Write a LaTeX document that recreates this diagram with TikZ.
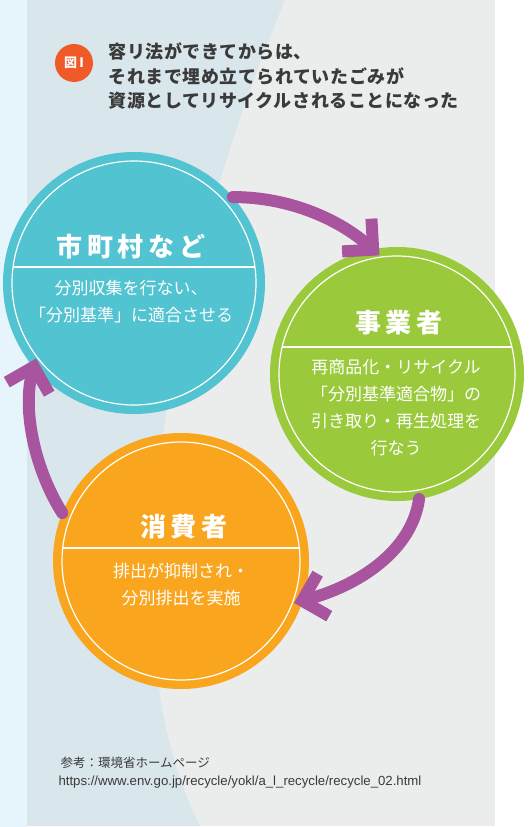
\documentclass[tikz,border=0pt]{standalone}
\usepackage{fontspec}
\setmainfont{Noto Sans CJK JP}
\newfontfamily\urlfont{Liberation Sans}
\usetikzlibrary{arrows.meta}

\definecolor{cityc}{HTML}{52C3D0}
\definecolor{bizc}{HTML}{9ACA3C}
\definecolor{conc}{HTML}{F9A61E}
\definecolor{arrowc}{HTML}{A8549F}
\definecolor{badgec}{HTML}{F05A28}
\definecolor{panelc}{HTML}{EBEDED}
\definecolor{bluegc}{HTML}{D9E6EC}
\definecolor{stripc}{HTML}{E6F5FC}
\definecolor{inkc}{HTML}{3A3A3A}

\begin{document}
\begin{tikzpicture}[x=1pt,y=-1pt,
  actor/.style={circle,draw=none,inner sep=0pt,outer sep=0pt,minimum size=#1},
  ring/.style={draw=white,line width=1.2pt},
  head/.style={text=white,font=\bfseries\fontsize{26}{26}\selectfont\addfontfeatures{LetterSpace=18}},
  body/.style={text=white,align=center,font=\fontsize{17}{27}\selectfont},
  cyc/.style={draw=arrowc,line width=12pt,line cap=round,
    -{Straight Barb[length=22pt,width=44pt,line cap=butt,line join=miter]}}]
  \useasboundingbox (0,0) rectangle (530,827);
  % background
  \fill[white] (0,0) rectangle (530,827);
  \fill[stripc] (0,0) rectangle (27,827);
  \fill[panelc] (27,0) rectangle (495,826);
  \fill[bluegc] (27,0) -- (285,0) .. controls (180,250) and (95,620) .. (200,826) -- (27,826) -- cycle;
  % title
  \node[circle,fill=badgec,minimum size=38pt,inner sep=0pt,text=white,font=\bfseries\fontsize{13}{13}\selectfont] (badge) at (74,63) {図\,I};
  \node[anchor=west,align=left,text=inkc,font=\bfseries\fontsize{18}{24.5}\selectfont\addfontfeatures{LetterSpace=3}] (title) at (105,76) {容リ法ができてからは、\\それまで埋め立てられていたごみが\\資源としてリサイクルされることになった};
  % circles
  \node[actor=262pt,fill=cityc] (city) at (134,283) {};
  \node[actor=254pt,fill=bizc] (biz) at (397,374) {};
  \node[actor=256pt,fill=conc] (con) at (181,561) {};
  \draw[ring] (city.center) circle[radius=122];
  \draw[ring] (biz.center) circle[radius=118];
  \draw[ring] (con.center) circle[radius=119];
  \begin{scope}
    \clip (city.center) circle[radius=122];
    \draw[ring] (0,267) -- (530,267);
  \end{scope}
  \begin{scope}
    \clip (biz.center) circle[radius=118];
    \draw[ring] (0,347) -- (530,347);
  \end{scope}
  \begin{scope}
    \clip (con.center) circle[radius=119];
    \draw[ring] (0,548) -- (530,548);
  \end{scope}
  \node[head] (cityhead) at (131,247) {市町村など};
  \node[body] (citybody) at (131,302) {分別収集を行ない、\\「分別基準」に適合させる};
  \node[head] (bizhead) at (399,323) {事業者};
  \node[body] (bizbody) at (396,408) {再商品化・リサイクル\\「分別基準適合物」の\\引き取り・再生処理を\\行なう};
  \node[head] (conhead) at (184,527) {消費者};
  \node[body] (conbody) at (181,585) {排出が抑制され・\\分別排出を実施};
  % arrows
  \draw[cyc,shorten >=-9pt] (city.41) .. controls (290,197) and (340,220) .. (biz.101);
  \draw[cyc,shorten >=-9pt] (biz.-80) .. controls (412,550) and (360,585) .. (con.-18);
  \draw[cyc,shorten >=-9pt] (con.158) .. controls (35,470) and (22,410) .. (city.-140);
  % source
  \node[anchor=west,text=inkc,font=\fontsize{12.5}{12.5}\selectfont] (src) at (57,763) {参考：環境省ホームページ};
  \node[anchor=west,text=inkc,font=\urlfont\fontsize{13.2}{13.2}\selectfont] (url) at (55,782) {https://www.env.go.jp/recycle/yokl/a\_l\_recycle/recycle\_02.html};
\end{tikzpicture}
\end{document}
